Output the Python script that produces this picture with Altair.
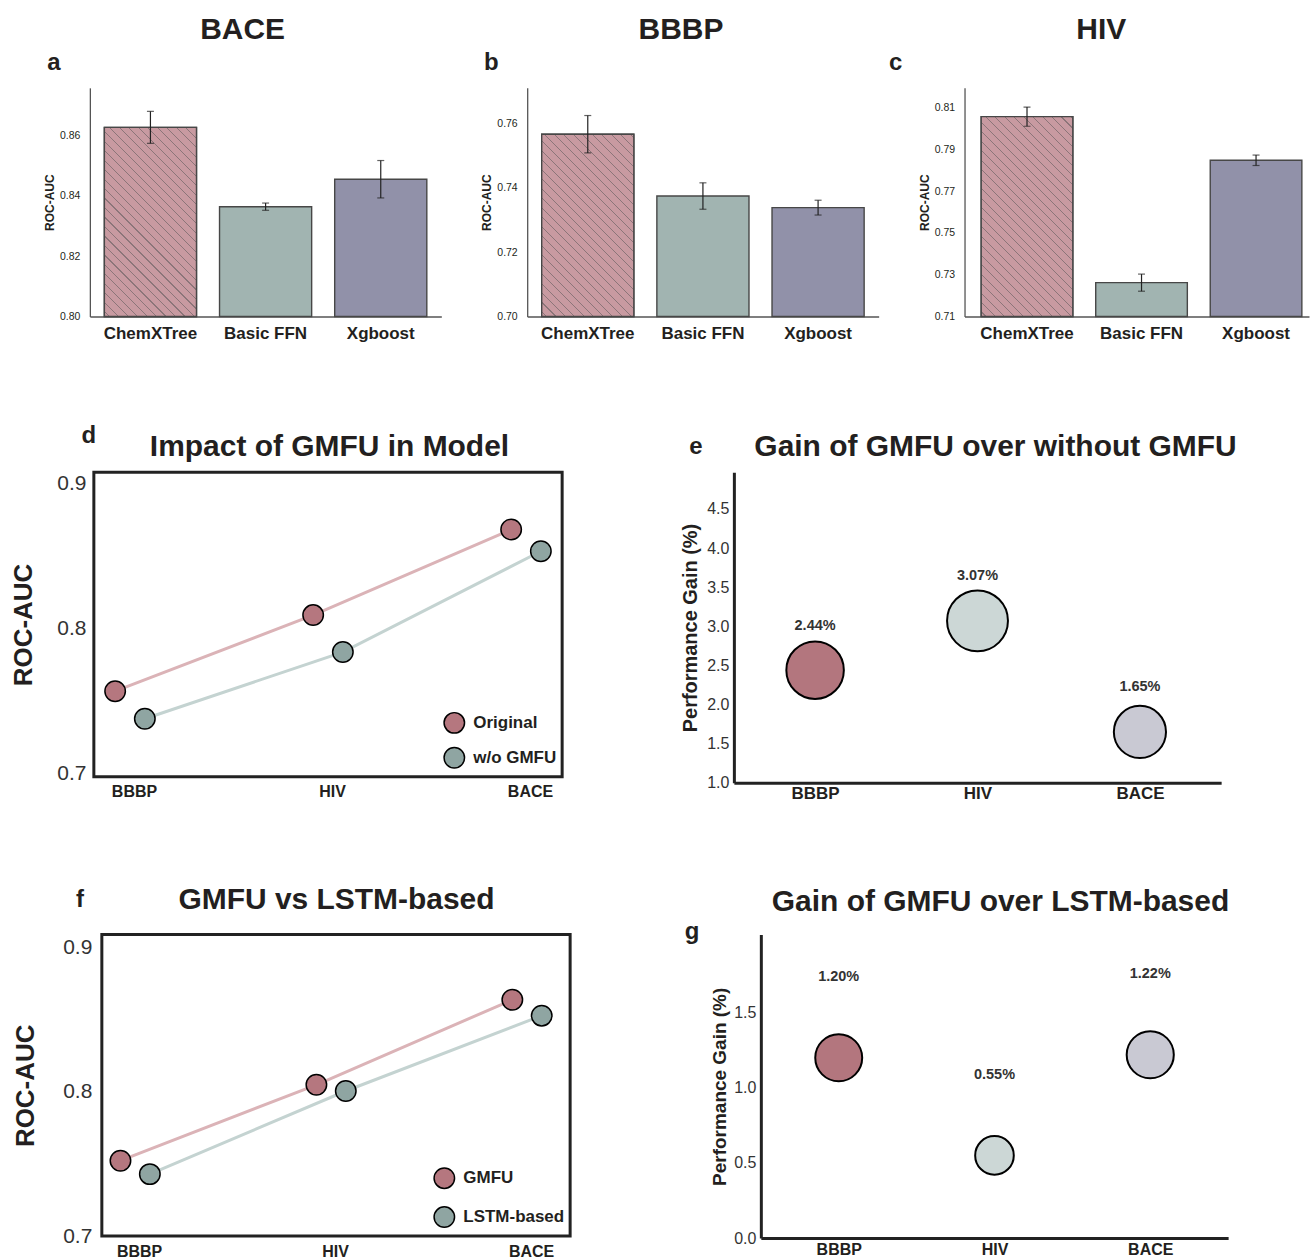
import json
import pandas as pd
import altair as alt

FONT = "Liberation Sans"
INK = "#231f20"

# ---------------- data: panels a-c (bar charts) ----------------
models = ["ChemXTree", "Basic FFN", "Xgboost"]
bar_colors = ["#c89aa1", "#a1b4b1", "#9191a9"]
hatch_line = "#8c7579"

bace_mean = [0.8627, 0.8364, 0.8455]
bace_err = [0.0053, 0.0012, 0.0062]
bbbp_mean = [0.7566, 0.7374, 0.7338]
bbbp_err = [0.0058, 0.0041, 0.0023]
hiv_mean = [0.8057, 0.7262, 0.7848]
hiv_err = [0.0046, 0.0041, 0.0025]

bar_titles = ["BACE", "BBBP", "HIV"]
bar_letters = ["a", "b", "c"]
bace_ticks = [0.80, 0.82, 0.84, 0.86]
bbbp_ticks = [0.70, 0.72, 0.74, 0.76]
hiv_ticks = [0.71, 0.73, 0.75, 0.77, 0.79, 0.81]

# ---------------- data: panels d, f (line + points) ----------------
datasets = ["BBBP", "HIV", "BACE"]
d_series = ["Original", "w/o GMFU"]
d_original = [0.757, 0.8095, 0.8685]
d_wo_gmfu = [0.738, 0.784, 0.8535]
f_series = ["GMFU", "LSTM-based"]
f_gmfu = [0.7523, 0.805, 0.864]
f_lstm = [0.743, 0.8007, 0.853]
roc_ticks = [0.7, 0.8, 0.9]
point_colors = ["#b5777f", "#8fa5a2"]
line_colors = ["#dbb3b7", "#c4d3d1"]
line_titles = ["Impact of GMFU in Model", "GMFU vs LSTM-based"]

# ---------------- data: panels e, g (bubbles) ----------------
e_gain = [2.44, 3.07, 1.65]
g_gain = [1.20, 0.55, 1.22]
e_ticks = [1.0, 1.5, 2.0, 2.5, 3.0, 3.5, 4.0, 4.5]
g_ticks = [0.0, 0.5, 1.0, 1.5]
bubble_colors = ["#b3767e", "#ccd7d6", "#c9c9d3"]
gain_titles = ["Gain of GMFU over without GMFU", "Gain of GMFU over LSTM-based"]

other_letters = ["d", "e", "f", "g"]

DODGE = [-0.075, 0.075]
BAR_H = 229
TITLE_SIZE = 30
INDEP = dict(fill="independent", size="independent", color="independent")


def label_layer(text, x, y, size, opacity=1, align="center"):
    return alt.Chart(pd.DataFrame({"t": [text]})).mark_text(
        font=FONT, fontSize=size, fontWeight="bold", color=INK,
        align=align, baseline="middle", opacity=opacity
    ).encode(text="t:N", x=alt.value(x), y=alt.value(y))


def spacer(width):
    return alt.Chart(pd.DataFrame({"s": [0]})).mark_point(opacity=0, size=1).encode(
        x=alt.value(0), y=alt.value(0)).properties(width=width, height=10)


def hatch_fill(w, h, fill, line, gap=9.5, lw=1.1):
    span = w + h
    stops = [{"offset": 0.0, "color": fill}]
    k = gap / 2
    while (k + lw / 2) < span:
        a = round((k - lw / 2) / span, 5)
        b = round((k + lw / 2) / span, 5)
        stops += [{"offset": a, "color": fill}, {"offset": a, "color": line},
                  {"offset": b, "color": line}, {"offset": b, "color": fill}]
        k += gap
    stops.append({"offset": 1.0, "color": fill})
    d = w * w + h * h
    return {"gradient": "linear", "x1": 0, "y1": 1,
            "x2": w * span / d, "y2": 1 - h * span / d, "stops": stops}


def bar_panel(means, errs, ticks, ymax, width, pad_outer, align, title, letter,
              title_x, letter_x):
    ymin = ticks[0]
    df = pd.DataFrame({"model": models, "v": means, "err": errs})
    df["lo"] = df["v"] - df["err"]
    df["hi"] = df["v"] + df["err"]
    base = alt.Chart(df)
    x = alt.X("model:N", sort=models,
              scale=alt.Scale(domain=models, paddingInner=0.2, paddingOuter=pad_outer, align=align),
              axis=alt.Axis(title=None, labelAngle=0, labelFont=FONT, labelFontSize=17,
                            labelFontWeight="bold", labelColor=INK, labelPadding=9,
                            ticks=False, domainColor="#555555", domainWidth=1.3, grid=False))
    ysc = alt.Scale(domain=[ymin, ymax], nice=False, zero=False)
    yax = alt.Axis(values=ticks, format=".2f", title="ROC-AUC", titleFont=FONT, titleFontSize=12,
                   titleFontWeight="bold", titleColor=INK, titlePadding=3, labelFont=FONT,
                   labelFontSize=10.5, labelColor=INK, labelPadding=10, ticks=False, grid=False,
                   domainColor="#555555", domainWidth=1.3)
    step = width / (3 - 0.2 + 2 * pad_outer)
    bw = 0.8 * step
    hpx = (means[0] - ymin) / (ymax - ymin) * BAR_H

    bars = base.mark_bar(stroke="#474747", strokeWidth=1.4).encode(
        x=x, y=alt.Y("v:Q", scale=ysc, axis=yax), y2=alt.datum(ymin),
        color=alt.Color("model:N", scale=alt.Scale(domain=models, range=bar_colors), legend=None))
    hatch = base.transform_filter(alt.datum.model == models[0]).mark_bar(
        fill=hatch_fill(bw, hpx, bar_colors[0], hatch_line), stroke="#474747", strokeWidth=1.4
    ).encode(x=x, y=alt.Y("v:Q", scale=ysc, axis=yax), y2=alt.datum(ymin))
    rule = base.mark_rule(color="#222222", strokeWidth=1.2).encode(
        x=x, y=alt.Y("lo:Q", scale=ysc, axis=yax), y2="hi:Q")
    t_lo = base.mark_tick(color="#222222", thickness=1.2, size=7).encode(
        x=x, y=alt.Y("lo:Q", scale=ysc, axis=yax))
    t_hi = base.mark_tick(color="#222222", thickness=1.2, size=7).encode(
        x=x, y=alt.Y("hi:Q", scale=ysc, axis=yax))
    return alt.layer(
        bars, hatch, rule, t_lo, t_hi,
        label_layer(title, title_x, -58, TITLE_SIZE),
        label_layer(letter, letter_x, -25, 24),
    ).properties(width=width, height=BAR_H)


def line_panel(series, values, ydomain, xdomain, width, height, title_pad, label_pad,
               xlabel_pad, title, letter, title_pos, letter_pos, row_pad, legend_offset):
    rows = []
    for s_i, (s, vals) in enumerate(zip(series, values)):
        for i, (ds, v) in enumerate(zip(datasets, vals)):
            rows.append({"ds": ds, "series": s, "v": v, "pos": i + DODGE[s_i]})
    df = pd.DataFrame(rows)
    base = alt.Chart(df)
    x = alt.X("pos:Q", scale=alt.Scale(domain=xdomain, nice=False, zero=False),
              axis=alt.Axis(values=list(range(len(datasets))),
                            labelExpr=json.dumps(datasets) + "[datum.value]",
                            title=None, labelFont=FONT, labelFontSize=16, labelFontWeight="bold",
                            labelColor=INK, labelPadding=xlabel_pad, labelOffset=4, ticks=False,
                            domain=False, grid=False))
    y = alt.Y("v:Q", scale=alt.Scale(domain=ydomain, nice=False, zero=False),
              axis=alt.Axis(values=roc_ticks, format=".1f", title="ROC-AUC", titleFont=FONT,
                            titleFontSize=26, titleFontWeight="bold", titleColor=INK,
                            titlePadding=title_pad, labelFont=FONT, labelFontSize=21,
                            labelColor="#333333", labelPadding=label_pad, ticks=False,
                            domain=False, grid=False))
    layers = []
    for s, c in zip(series, line_colors):
        layers.append(base.transform_filter(alt.datum.series == s).mark_line(
            color=c, strokeWidth=3).encode(x=x, y=y))
    pts = base.mark_circle(size=420, stroke="black", strokeWidth=1.5, opacity=1).encode(
        x=x, y=y,
        fill=alt.Fill("series:N", scale=alt.Scale(domain=series, range=point_colors),
                      legend=alt.Legend(title=None, orient="bottom-right", offset=legend_offset,
                                        padding=0, rowPadding=row_pad, symbolType="circle",
                                        symbolSize=420, symbolStrokeColor="black",
                                        symbolStrokeWidth=1.5, symbolOpacity=1,
                                        labelFont=FONT, labelFontSize=17, labelFontWeight="bold",
                                        labelColor=INK, labelOffset=8)))
    layers.append(pts)
    layers.append(label_layer(title, title_pos[0], title_pos[1], TITLE_SIZE))
    layers.append(label_layer(letter, letter_pos[0], letter_pos[1], 24))
    return alt.layer(*layers).properties(
        width=width, height=height,
        view=alt.ViewBackground(stroke="#222222", strokeWidth=3))


def bubble_panel(gains, ydomain, ticks, size_max, width, height, title_size, title_pad,
                 xlabel_size, xlabel_pad, title, letter, title_pos, letter_pos):
    df = pd.DataFrame({"ds": datasets, "v": gains})
    base = alt.Chart(df)
    x = alt.X("ds:N", sort=datasets, scale=alt.Scale(type="point", padding=0.5, domain=datasets),
              axis=alt.Axis(title=None, labelAngle=0, labelFont=FONT, labelFontSize=xlabel_size,
                            labelFontWeight="bold", labelColor=INK, labelPadding=xlabel_pad,
                            ticks=False, domainColor="#222222", domainWidth=3, grid=False))
    ysc = alt.Scale(domain=ydomain, nice=False, zero=False)
    yax = alt.Axis(values=ticks, format=".1f", title="Performance Gain (%)", titleFont=FONT,
                   titleFontSize=title_size, titleFontWeight="bold", titleColor=INK,
                   titlePadding=title_pad, labelFont=FONT, labelFontSize=16, labelColor="#333333",
                   labelPadding=5, ticks=False, grid=False, domainColor="#222222", domainWidth=3)
    bub = base.mark_circle(stroke="black", strokeWidth=2, opacity=1).encode(
        x=x, y=alt.Y("v:Q", scale=ysc, axis=yax),
        fill=alt.Fill("ds:N", scale=alt.Scale(domain=datasets, range=bubble_colors), legend=None),
        size=alt.Size("v:Q", scale=alt.Scale(type="sqrt", domain=[0, max(gains)],
                                             range=[0, size_max]), legend=None))
    txt = base.transform_calculate(
        ly="datum.v + 0.5", lab="format(datum.v, '.2f') + '%'"
    ).mark_text(font=FONT, fontSize=14.5, fontWeight="bold", color="#333333",
                baseline="middle", dy=-5.5).encode(
        x=x, y=alt.Y("ly:Q", scale=ysc, axis=yax), text="lab:N")
    return alt.layer(
        bub, txt,
        label_layer(title, title_pos[0], title_pos[1], TITLE_SIZE),
        label_layer(letter, letter_pos[0], letter_pos[1], 24),
    ).properties(width=width, height=height)


pa = bar_panel(bace_mean, bace_err, bace_ticks, 0.8758, 352, 0.126, 0.5,
               bar_titles[0], bar_letters[0], 153, -36)
pb = bar_panel(bbbp_mean, bbbp_err, bbbp_ticks, 0.771, 352, 0.126, 0.5,
               bar_titles[1], bar_letters[1], 154, -36)
pc = bar_panel(hiv_mean, hiv_err, hiv_ticks, 0.8195, 345, 0.104, 0.7,
               bar_titles[2], bar_letters[2], 137, -69)

pd_ = line_panel(d_series, [d_original, d_wo_gmfu], [0.698, 0.908], [-0.1825, 2.1825],
                 469, 305, 20, 8, 7, line_titles[0], other_letters[0], (236, -25), (-5, -36), 7, 5)
pe = bubble_panel(e_gain, [1.0, 4.97], e_ticks, 3721, 488, 311, 20, 6, 17, 3,
                  gain_titles[0], other_letters[1], (262, -25), (-38, -25))
pf = line_panel(f_series, [f_gmfu, f_lstm], [0.7, 0.9093], [-0.17, 2.22],
                469, 302, 24, 10, 7, line_titles[1], other_letters[2], (235, -35), (-22, -35), 11, 5)
pg = bubble_panel(g_gain, [0.0, 2.02], g_ticks, 2228, 468, 304, 19, 4, 16, 3,
                  gain_titles[1], other_letters[3], (240, -33), (-69, -3))


def row(cells, spacing):
    return alt.hconcat(*cells, spacing=spacing, bounds="flush").resolve_scale(
        **INDEP).resolve_legend(fill="independent")


row1 = row([pa, pb, pc], 86)
row2 = row([spacer(4), row([pd_, pe], 172)], 0)
row3 = row([spacer(12), row([pf, pg], 191)], 0)

chart = alt.vconcat(row1, row2, row3, spacing=80).resolve_scale(**INDEP).resolve_legend(
    fill="independent"
).properties(
    padding={"left": 9, "top": 13, "right": 0, "bottom": 0}
).configure(font=FONT).configure_view(stroke="transparent")

chart.save("out.html", embed_options={"renderer": "svg", "actions": False})
